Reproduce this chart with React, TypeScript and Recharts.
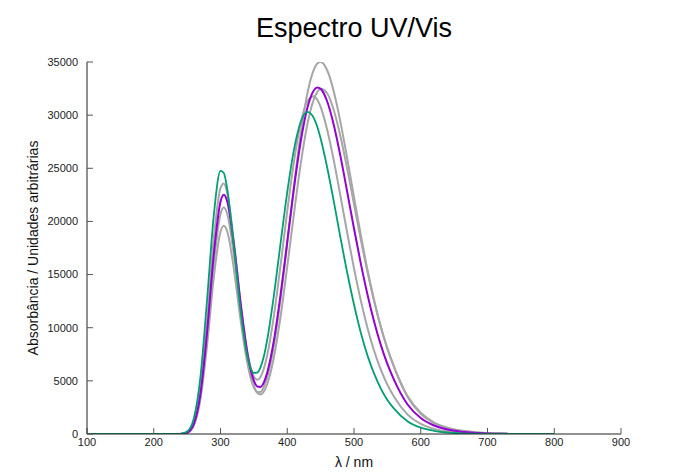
import { LineChart, Line, XAxis, YAxis } from 'recharts'

const wavelength = [
  100, 200, 230, 240, 250, 260, 270, 280, 290, 300,
  305, 310, 320, 330, 340, 345, 350, 355, 360, 365,
  370, 380, 390, 400, 410, 420, 430, 440, 445, 450,
  460, 470, 480, 490, 500, 510, 520, 530, 540, 550,
  560, 580, 600, 620, 640, 660, 680, 700, 720, 730,
  750, 800,
]

const green = [
  0, 0, 0, 17, 228, 1463, 5406, 12722, 20609, 24750,
  24550, 23085, 17700, 11700, 7370, 6200, 5750, 5780, 6300, 7315,
  8885, 13050, 17950, 22760, 26730, 29330, 30300, 29700, 28910, 27810,
  25030, 21790, 18390, 15120, 12180, 9570, 7420, 5700, 4300, 3210,
  2390, 1200, 600, 300, 140, 65, 28, 12, 5, 2,
  0, 0,
]

const purple = [
  0, 0, 0, 9, 130, 936, 3780, 9650, 16940, 21850,
  22500, 21897, 17852, 12370, 7730, 6100, 5015, 4470, 4430, 4860,
  5775, 8800, 13110, 18090, 23110, 27450, 30640, 32340, 32600, 32470,
  31260, 29010, 26050, 22720, 19330, 16100, 13170, 10600, 8410, 6590,
  5090, 2800, 1500, 800, 420, 220, 110, 55, 25, 15,
  null, null,
]

const grayA = [
  0, 0, 0, 8, 114, 815, 3293, 8408, 14759, 19032,
  19600, 19075, 15549, 10772, 6735, 5324, 4391, 3941, 3956, 4437,
  5335, 8354, 12715, 17919, 23300, 28200, 32000, 34300, 34850, 35000,
  34200, 32150, 29250, 25870, 22290, 18800, 15500, 12630, 10120, 8020,
  6280, 3500, 1900, 1030, 560, 300, 160, 85, 40, 25,
  null, null,
]

const grayB = [
  0, 0, 0, 9, 124, 886, 3578, 9138, 16039, 20682,
  21300, 20730, 16890, 11674, 7216, 5614, 4503, 3877, 3706, 3991,
  4684, 7221, 11056, 15743, 20700, 25350, 29090, 31520, 32180, 32480,
  32040, 30420, 27920, 24900, 21620, 18360, 15300, 12540, 10110, 8060,
  6340, 3600, 2000, 1080, 590, 320, 170, 90, 45, 28,
  null, null,
]

const grayC = [
  0, 0, 0, 12, 160, 1109, 4342, 10762, 18408, 23152,
  23576, 22692, 18136, 12374, 7800, 6308, 5421, 5111, 5370, 6162,
  7419, 11118, 15870, 20970, 25610, 29200, 31290, 31770, 31440, 30780,
  28580, 25650, 22290, 18860, 15580, 12620, 10030, 7850, 6080, 4640,
  3500, 1850, 950, 480, 250, 125, 60, 30, 12, 6,
  null, null,
]

const xTicks = [100, 200, 300, 400, 500, 600, 700, 800, 900]
const yTicks = [0, 5000, 10000, 15000, 20000, 25000, 30000, 35000]

const data = wavelength.map((w, i) => ({
  w,
  green: green[i],
  purple: purple[i],
  grayA: grayA[i],
  grayB: grayB[i],
  grayC: grayC[i],
}))

const font = '"Liberation Sans", Arial, sans-serif'
const tickStyle = { fontSize: 11, fill: '#222', fontFamily: font }

export default function App() {
  return (
    <div style={{ position: 'absolute', left: 0, top: 0, width: 682, height: 472, background: '#fff', fontFamily: font }}>
      <div
        style={{
          position: 'absolute', left: 0, top: 15, width: 708,
          textAlign: 'center', fontSize: 27, lineHeight: 1, color: '#000',
        }}
      >
        Espectro UV/Vis
      </div>
      <LineChart width={682} height={472} data={data} margin={{ top: 62, right: 61, bottom: 16, left: 27 }}>
        <XAxis
          dataKey="w"
          type="number"
          domain={[100, 900]}
          ticks={xTicks}
          allowDataOverflow
          height={22}
          tickSize={-6}
          tickMargin={10}
          tick={tickStyle}
          axisLine={{ stroke: '#222' }}
          tickLine={{ stroke: '#555' }}
          label={{ value: 'λ / nm', position: 'bottom', offset: 1, style: { fontSize: 14, fill: '#111', fontFamily: font } }}
        />
        <XAxis
          xAxisId="top"
          orientation="top"
          dataKey="w"
          type="number"
          domain={[100, 900]}
          ticks={xTicks}
          allowDataOverflow
          height={0}
          tickSize={-6}
          tick={false}
          axisLine={{ stroke: '#222' }}
          tickLine={{ stroke: '#555' }}
        />
        <YAxis
          type="number"
          domain={[0, 35000]}
          ticks={yTicks}
          allowDataOverflow
          width={60}
          tickSize={-6}
          tickMargin={15}
          tick={tickStyle}
          axisLine={{ stroke: '#222' }}
          tickLine={{ stroke: '#555' }}
          label={{
            value: 'Absorbância / Unidades arbitrárias',
            angle: -90,
            position: 'insideLeft',
            offset: 6,
            style: { textAnchor: 'middle', fontSize: 14, fill: '#111', fontFamily: font },
          }}
        />
        <YAxis
          yAxisId="right"
          orientation="right"
          type="number"
          domain={[0, 35000]}
          ticks={yTicks}
          allowDataOverflow
          width={0}
          tickSize={-6}
          tick={false}
          axisLine={{ stroke: '#222' }}
          tickLine={{ stroke: '#555' }}
        />
        {/* hidden series so the mirror axes get their scales */}
        <Line xAxisId="top" yAxisId="right" dataKey="green" stroke="none" dot={false} activeDot={false} isAnimationActive={false} />
        <Line type="monotone" dataKey="grayA" stroke="#a6a6a6" strokeWidth={2} dot={false} isAnimationActive={false} />
        <Line type="monotone" dataKey="grayB" stroke="#a6a6a6" strokeWidth={2} dot={false} isAnimationActive={false} />
        <Line type="monotone" dataKey="grayC" stroke="#a6a6a6" strokeWidth={2} dot={false} isAnimationActive={false} />
        <Line type="monotone" dataKey="purple" stroke="#9400d3" strokeWidth={2} dot={false} isAnimationActive={false} />
        <Line type="monotone" dataKey="green" stroke="#009e73" strokeWidth={1.8} dot={false} isAnimationActive={false} />
      </LineChart>
    </div>
  )
}
